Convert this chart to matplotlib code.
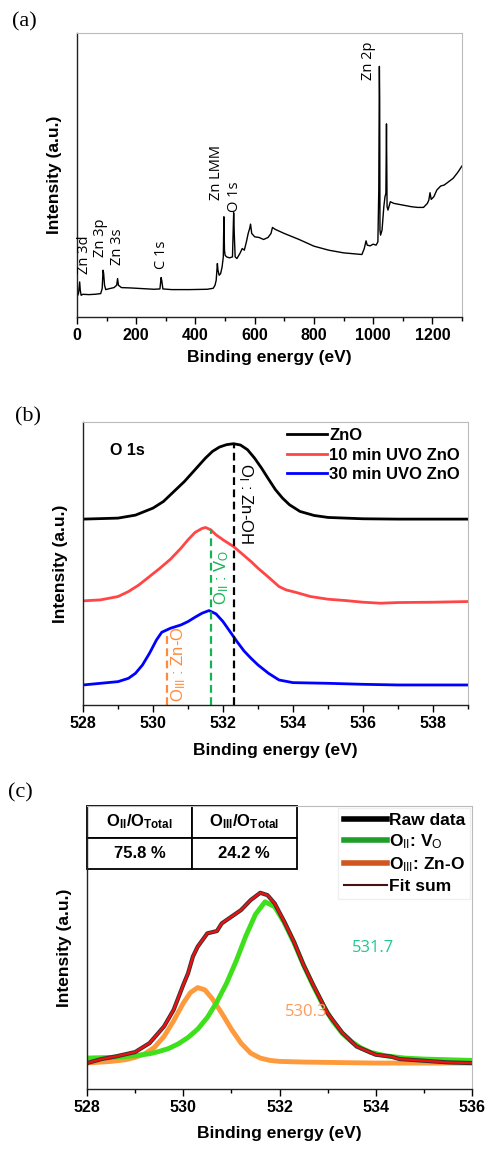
import matplotlib
matplotlib.use("Agg")
import matplotlib.pyplot as plt
from matplotlib.lines import Line2D
from matplotlib.ticker import MultipleLocator

plt.rcParams['font.family'] = ['Liberation Sans', 'DejaVu Sans']
plt.rcParams['mathtext.fontset'] = 'custom'
plt.rcParams['mathtext.rm'] = 'Liberation Sans'
plt.rcParams['mathtext.it'] = 'Liberation Sans:italic'
plt.rcParams['mathtext.bf'] = 'Liberation Sans:bold'

# ---------------- data: (a) survey ----------------
survey_energy = [0, 5, 9, 11, 14, 20, 40, 60, 80, 85, 88, 90, 93, 97, 110, 125, 134, 137, 140, 150,
                 180, 220, 260, 280, 284, 286, 290, 320, 380, 440, 460, 466, 470, 474, 476, 480, 485,
                 490, 494, 496, 498, 500, 505, 515, 525, 529, 531, 534, 540, 550, 558, 565, 572, 578,
                 583, 586, 590, 600, 615, 630, 645, 655, 660, 670, 700, 750, 800, 850, 900, 950, 962,
                 970, 976, 980, 990, 1000, 1010, 1016, 1019, 1021, 1022, 1023, 1025, 1030, 1036, 1040,
                 1043, 1045, 1047, 1050, 1058, 1070, 1100, 1130, 1150, 1170, 1183, 1188, 1192, 1196,
                 1205, 1215, 1228, 1240, 1255, 1270, 1285, 1300]
survey_intensity = [60, 70, 105, 80, 65, 68, 67, 68, 70, 85, 140, 130, 95, 82, 85, 88, 95, 115, 95, 88,
                    87, 85, 83, 84, 118, 110, 84, 82, 82, 83, 86, 95, 110, 160, 140, 125, 130,
                    150, 180, 300, 200, 185, 180, 177, 180, 312, 250, 180, 175, 190, 205, 200, 225, 250,
                    265, 278, 250, 240, 238, 232, 238, 250, 268, 262, 250, 232, 212, 200, 192, 188, 187,
                    205, 228, 215, 213, 218, 215, 225, 380, 750, 660, 260, 245, 260, 330, 360,
                    370, 578, 330, 320, 345, 340, 335, 330, 328, 328, 340, 350, 372, 352,
                    360, 380, 392, 395, 405, 415, 432, 452]
survey_ticks = [0, 200, 400, 600, 800, 1000, 1200]
survey_labels = ["Zn 3d", "Zn 3p", "Zn 3s", "C 1s", "Zn LMM", "O 1s", "Zn 2p"]
survey_label_energy = [25, 81, 137, 286, 472, 531, 983]
survey_label_height = [130, 180, 155, 145, 350, 315, 710]

# ---------------- data: (b) O 1s ----------------
zno_energy = [528, 529, 529.5, 530, 530.3, 530.6, 530.9, 531.2, 531.5, 531.7, 531.9, 532.1, 532.3,
              532.5, 532.7, 532.9, 533.1, 533.3, 533.5, 533.7, 533.9, 534.2, 534.6, 535, 536, 537, 538, 539]
zno_intensity = [557, 560, 569, 590, 610, 640, 670, 705, 740, 760, 773, 780, 783,
                 779, 765, 740, 710, 677, 645, 620, 600, 580, 568, 562, 558, 557, 557, 557]
uvo10_energy = [528, 528.5, 529, 529.3, 529.6, 529.9, 530.2, 530.5, 530.8, 531.0, 531.2, 531.4, 531.5,
                531.65, 531.8, 532.0, 532.3, 532.5, 532.8, 533.0, 533.3, 533.6, 533.8, 534.1, 534.5,
                535, 535.5, 536, 536.5, 537, 538, 539]
uvo10_intensity = [312, 315, 325, 340, 360, 385, 410, 437, 470, 495, 517, 529, 532,
                   525, 510, 495, 475, 457, 430, 410, 383, 355, 345, 337, 325,
                   317, 313, 308, 305, 307, 308, 310]
uvo30_energy = [528, 528.5, 529, 529.3, 529.5, 529.7, 529.9, 530.0, 530.1, 530.25, 530.5, 530.8, 531.0,
                531.2, 531.4, 531.6, 531.8, 532.0, 532.2, 532.4, 532.6, 532.8, 533.0, 533.3, 533.6,
                534, 535, 536, 537, 538, 539]
uvo30_intensity = [60, 65, 70, 80, 95, 120, 155, 175, 195, 218, 230, 240, 250,
                   263, 275, 283, 273, 250, 220, 190, 162, 140, 120, 95, 75,
                   67, 65, 62, 60, 60, 60]
series_names = ["ZnO", "10 min UVO ZnO", "30 min UVO ZnO"]
marker_energy = [532.3, 531.65, 530.4]
marker_top = [780, 527, 220]
marker_labels = [r"O$_{\mathrm{I}}$ : Zn-OH", r"O$_{\mathrm{II}}$ : V$_{\mathrm{O}}$", r"O$_{\mathrm{III}}$ : Zn-O"]

# ---------------- data: (c) fit ----------------
raw_energy = [528.0, 528.3, 528.6, 529.0, 529.3, 529.6, 529.8, 530.0, 530.1, 530.2, 530.3, 530.4, 530.5,
              530.7, 530.8, 531.0, 531.2, 531.4, 531.6, 531.75, 531.9, 532.1, 532.3, 532.5, 532.7,
              533.0, 533.3, 533.6, 534.0, 534.3, 534.5, 535.0, 535.5, 536.0]
raw_intensity = [78, 90, 98, 111, 138, 188, 238, 313, 348, 398, 428, 448, 468,
                 475, 498, 518, 538, 568, 590, 583, 558, 503, 443, 373, 313,
                 228, 170, 128, 103, 98, 90, 85, 80, 78]
o2_energy = [528.0, 528.5, 529.0, 529.3, 529.5, 529.7, 529.9, 530.1, 530.3, 530.5, 530.7, 530.9, 531.1,
             531.3, 531.5, 531.7, 531.9, 532.1, 532.3, 532.5, 532.7, 532.9, 533.1, 533.3, 533.5, 533.7,
             533.9, 534.2, 534.6, 535.0, 535.5, 536.0]
o2_intensity = [93, 95, 100, 106, 113, 122, 136, 155, 180, 215, 262, 318, 385,
                460, 525, 563, 548, 500, 440, 372, 310, 253, 205, 168, 142, 123,
                110, 100, 93, 90, 88, 86]
o3_energy = [528.0, 528.5, 528.8, 529.0, 529.2, 529.4, 529.6, 529.8, 530.0, 530.15, 530.3, 530.45, 530.6,
             530.8, 531.0, 531.2, 531.4, 531.6, 531.8, 532.0, 532.5, 533.0, 534.0, 535.0, 536.0]
o3_intensity = [78, 83, 88, 95, 106, 125, 158, 205, 258, 290, 305, 298, 272,
                228, 180, 138, 108, 93, 86, 83, 81, 80, 78, 78, 78]
ratio_header = [r"$\mathbf{O_{II}/O_{Total}}$", r"$\mathbf{O_{III}/O_{Total}}$"]
ratio_values = ["75.8 %", "24.2 %"]
fit_names = ["Raw data", r"O$_{\mathrm{II}}$: V$_{\mathrm{O}}$", r"O$_{\mathrm{III}}$: Zn-O", "Fit sum"]

W, H = 486, 1149
fig = plt.figure(figsize=(W / 100, H / 100), dpi=100)


def axes_px(left, top, right, bottom):
    return fig.add_axes([left / W, 1 - bottom / H, (right - left) / W, (bottom - top) / H])


def style(ax):
    for s in ["top", "right"]:
        ax.spines[s].set_color("#bbbbbb")
        ax.spines[s].set_linewidth(0.8)
    for s in ["left", "bottom"]:
        ax.spines[s].set_color("#222222")
        ax.spines[s].set_linewidth(1.0)
    ax.set_yticks([])
    ax.tick_params(axis="x", which="major", direction="out", length=5, width=1, pad=3)
    ax.tick_params(axis="x", which="minor", direction="out", length=3, width=1)


tick_kw = dict(fontsize=11.5, fontweight="bold")
lab_kw = dict(fontsize=12.5, fontweight="bold")

# ---------- (a) ----------
ax1 = axes_px(77, 33, 462, 317)
ax1.plot(survey_energy, survey_intensity, color="black", lw=1.0)
ax1.set_xlim(0, 1300)
ax1.set_ylim(0, 850)
style(ax1)
ax1.set_xticks(survey_ticks)
ax1.set_xticklabels([str(v) for v in survey_ticks], **tick_kw)
ax1.xaxis.set_minor_locator(MultipleLocator(100))
for t, e, h in zip(survey_labels, survey_label_energy, survey_label_height):
    ax1.text(e, h, t, rotation=90, ha="center", va="bottom", fontsize=10.5, family=["Open Sans", "DejaVu Sans"])
ax1.set_xlabel("Binding energy (eV)", **lab_kw)
ax1.set_ylabel("Intensity (a.u.)", **lab_kw)
ax1.xaxis.set_label_coords(0.5, -0.115)
ax1.yaxis.set_label_coords(-0.04, 0.5)
fig.text(12 / W, 1 - 22 / H, "(a)", fontsize=16, family=["Liberation Serif"], va="center")

# ---------- (b) ----------
ax2 = axes_px(83, 422, 468, 705)
l1, = ax2.plot(zno_energy, zno_intensity, color="black", lw=2.0)
l2, = ax2.plot(uvo10_energy, uvo10_intensity, color="#ff4646", lw=2.0)
l3, = ax2.plot(uvo30_energy, uvo30_intensity, color="#0000ff", lw=2.0)
ax2.set_xlim(528, 539)
ax2.set_ylim(0, 848)
style(ax2)
b_ticks = [528, 530, 532, 534, 536, 538]
ax2.set_xticks(b_ticks)
ax2.set_xticklabels([str(v) for v in b_ticks], **tick_kw)
ax2.xaxis.set_minor_locator(MultipleLocator(1))
mcolors = ["black", "#14b454", "#ff8a3a"]
for e, top, c in zip(marker_energy, marker_top, mcolors):
    ax2.plot([e, e], [0, top], color=c, lw=1.6, ls=(0, (3.5, 2)))
ax2.text(532.64, 605, marker_labels[0], rotation=270, ha="center", va="center", fontsize=12, color="black")
ax2.text(531.95, 383, marker_labels[1], rotation=90, ha="center", va="center", fontsize=12, color="#14b454")
ax2.text(530.72, 122, marker_labels[2], rotation=90, ha="center", va="center", fontsize=12, color="#ff8a3a")
ax2.text(528.78, 762, "O 1s", fontsize=11.5, fontweight="bold", va="center")
ax2.legend([l1, l2, l3], series_names, loc="upper left", bbox_to_anchor=(0.525, 0.985), frameon=False,
           prop=dict(weight="bold", size=12), handlelength=2.4, handletextpad=0.15, labelspacing=0.28,
           borderpad=0.1, borderaxespad=0)
ax2.set_xlabel("Binding energy (eV)", **lab_kw)
ax2.set_ylabel("Intensity (a.u.)", **lab_kw)
ax2.xaxis.set_label_coords(0.5, -0.135)
ax2.yaxis.set_label_coords(-0.04, 0.5)
fig.text(15 / W, 1 - 417 / H, "(b)", fontsize=16, family=["Liberation Serif"], va="center")

# ---------- (c) ----------
ax3 = axes_px(87, 806, 472, 1089)
ax3.plot(o3_energy, o3_intensity, color="#ff9a3c", lw=3.5, solid_capstyle="round")
ax3.plot(o2_energy, o2_intensity, color="#3ee01c", lw=3.5, solid_capstyle="round")
ax3.plot(raw_energy, raw_intensity, color="#333333", lw=3.0)
ax3.plot(raw_energy, raw_intensity, color="#ee1111", lw=1.7)
ax3.set_xlim(528, 536)
ax3.set_ylim(0, 851)
style(ax3)
c_ticks = [528, 530, 532, 534, 536]
ax3.set_xticks(c_ticks)
ax3.set_xticklabels([str(v) for v in c_ticks], **tick_kw)
ax3.xaxis.set_minor_locator(MultipleLocator(1))
ax3.text(533.51, 425, "531.7", color="#1ec88c", fontsize=12, va="center", family=["Open Sans", "DejaVu Sans"])
ax3.text(532.12, 233, "530.3", color="#ff9a5a", fontsize=12, va="center", family=["Open Sans", "DejaVu Sans"])
tbl = ax3.table(cellText=[ratio_header, ratio_values], bbox=[0, 0.777, 0.545, 0.223], cellLoc="center")
tbl.auto_set_font_size(False)
for (r, c), cell in tbl.get_celld().items():
    cell.set_linewidth(1.3)
    cell.set_edgecolor("black")
    cell.get_text().set_fontsize(12)
    cell.get_text().set_fontweight("bold")
leg_handles = [Line2D([], [], color="black", lw=4), Line2D([], [], color="#1f9e2a", lw=4),
               Line2D([], [], color="#d2561f", lw=4), Line2D([], [], color="#4a1010", lw=1.5)]
leg3 = ax3.legend(leg_handles, fit_names, loc="upper right", bbox_to_anchor=(1.0, 1.0), frameon=True,
                  prop=dict(weight="bold", size=12.5), handlelength=2.5, handletextpad=0.1, labelspacing=0.25,
                  borderpad=0.3, borderaxespad=0.1, fancybox=False)
leg3.get_frame().set_edgecolor("#ececec")
ax3.set_xlabel("Binding energy (eV)", **lab_kw)
ax3.set_ylabel("Intensity (a.u.)", **lab_kw)
ax3.xaxis.set_label_coords(0.5, -0.13)
ax3.yaxis.set_label_coords(-0.04, 0.5)
fig.text(8 / W, 1 - 793 / H, "(c)", fontsize=16, family=["Liberation Serif"], va="center")

fig.savefig("out.png", dpi=100)
